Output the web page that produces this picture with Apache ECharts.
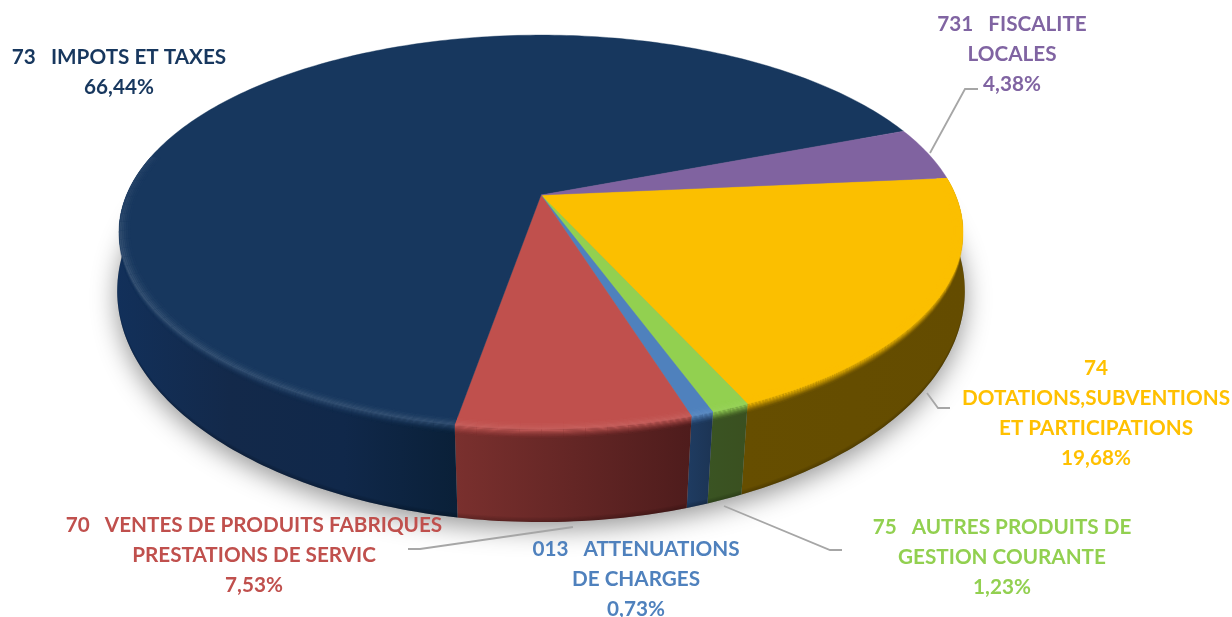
<!DOCTYPE html>
<html><head><meta charset="utf-8">
<style>html,body{margin:0;padding:0;background:#fff}#c{width:1232px;height:617px}</style>
<script src="https://cdn.jsdelivr.net/npm/echarts@6/dist/echarts.min.js"></script>
</head><body><div id="c"></div>
<script>
// DATA (in drawing order, clockwise from the right-hand edge)
const categories = ['74 DOTATIONS,SUBVENTIONS ET PARTICIPATIONS','75 AUTRES PRODUITS DE GESTION COURANTE','013 ATTENUATIONS DE CHARGES','70 VENTES DE PRODUITS FABRIQUES PRESTATIONS DE SERVIC','73 IMPOTS ET TAXES','731 FISCALITE LOCALES'];
const values = [19.68, 1.23, 0.73, 7.53, 66.44, 4.38];
const labelLines = [
  ['74','DOTATIONS,SUBVENTIONS','ET PARTICIPATIONS','19,68%'],
  ['75   AUTRES PRODUITS DE','GESTION COURANTE','1,23%'],
  ['013   ATTENUATIONS','DE CHARGES','0,73%'],
  ['70   VENTES DE PRODUITS FABRIQUES','PRESTATIONS DE SERVIC','7,53%'],
  ['73   IMPOTS ET TAXES','66,44%'],
  ['731   FISCALITE','LOCALES','4,38%']
];
// STYLE / LAYOUT
const topColors = ['#fbbf00','#92d050','#4f81bd','#c0504d','#17375e','#8063a0'];
const textColors = ['#ffc000','#92d050','#4f81bd','#c0504d','#17375e','#8064a2'];
const wallStops = [
  ['#664e00','#644c00'],['#3a5423','#3a5020'],['#1f3c62','#1c3454'],
  ['#7a302e','#4e1c1c'],['#12305a','#13294a','#10284a','#0a2038'],['#3f3050','#3f3050']];
const glow = [0,0.05,0.08,0.09,0.13,0];
const labelPos = [[1096,368],[1002,527],[636,549],[254,525],[119,57],[1012,24]];
const leaders = [
  [[927,393],[938,408],[950,408]],
  [[724,506],[830,550],[842,550]],
  [[573,527],[420,549],[408,549]],
  [[930,153],[965,89],[978,89]]
];
const START = -5.25;
const TOP = {R:414.5,h:190,p:0.188,y0:195,x0:541};
const BOT = {R:419,h:225.8,p:0.15,y0:256.4,x0:541};
const rad = d => d*Math.PI/180;
function proj(P,th,r){
  const u=r*Math.cos(rad(th)), v=r*Math.sin(rad(th)), w=1-P.p*v;
  return [P.x0+P.R*u/w, P.y0+P.h*v/w];
}
function pt(th,q){
  if(q<0) return proj(TOP,th,1+q);
  const a=proj(TOP,th,1), b=proj(BOT,th,1);
  return [a[0]+(b[0]-a[0])*q, a[1]+(b[1]-a[1])*q];
}
function hex(c){return [1,3,5].map(i=>parseInt(c.slice(i,i+2),16));}
function mix(c,t,f){const a=hex(c),b=hex(t);return a.map((x,i)=>Math.round(x+(b[i]-x)*f));}
const total = values.reduce((a,b)=>a+b,0);
function range(a,b,step){const o=[];const n=Math.max(1,Math.ceil((b-a)/step));for(let i=0;i<=n;i++)o.push(a+(b-a)*i/n);return o;}

const BEVEL = [[-0.026,0],[-0.021,0.1],[-0.016,0.25],[-0.012,0.45],[-0.008,0.7],[-0.004,0.9],[0,1],
               [0.012,0.92],[0.024,0.78],[0.036,0.62],[0.048,0.46],[0.06,0.32],[0.072,0.2],[0.084,0.1],[0.1,0]];

function renderItem(params, api){
  const idx = params.dataIndex;
  let before = 0; for(let i=0;i<idx;i++) before += values[i];
  const a0 = START + before/total*360;
  const a1 = a0 + api.value(0)/total*360;
  const children = [];
  if(idx===0){
    const ring = range(0,360,3).map(t=>proj(BOT,t,1));
    children.push({type:'polygon',z2:0,shape:{points:ring},style:{fill:'#999',shadowBlur:26,shadowColor:'rgba(0,0,0,0.42)',shadowOffsetY:7}});
  }
  const wa=Math.max(a0,-6), wb=Math.min(a1,192);
  if(wb>wa){
    const ths=range(wa,wb,1);
    const pts=ths.map(t=>pt(t,0)).concat(ths.slice().reverse().map(t=>pt(t,1)));
    const st=wallStops[idx];
    children.push({type:'polygon',z2:1,shape:{points:pts},style:{
      fill:{type:'linear',x:0,y:0,x2:1,y2:0,colorStops:st.map((c,i)=>({offset:i/(st.length-1),color:c}))},
      stroke:st[0],lineWidth:0}});
    for(let k=0;k<4;k++){
      const q=0.95+k*0.0125;
      const seg=ths.map(t=>pt(t,q)).concat(ths.slice().reverse().map(t=>pt(t,q+0.0125)));
      children.push({type:'polygon',z2:1,shape:{points:seg},style:{fill:'rgba(0,0,0,'+(0.05+k*0.05)+')'}});
    }
  }
  const surf=[proj(TOP,0,0)].concat(range(a0,a1,1).map(t=>proj(TOP,t,1)));
  children.push({type:'polygon',z2:2,shape:{points:surf},style:{fill:topColors[idx],stroke:topColors[idx],lineWidth:0.4}});
  if(wb>wa){
    const ths=range(wa,wb,2.5);
    for(let s=0;s<ths.length-1;s++){
      const t0=ths[s],t1=ths[s+1],tm=(t0+t1)/2;
      const fade=Math.min(1,Math.max(0,(Math.sin(rad(tm))+0.05)/0.35));
      for(let j=0;j<BEVEL.length-1;j++){
        const [q0,g0]=BEVEL[j],[q1,g1]=BEVEL[j+1];
        const qm=(q0+q1)/2, gm=(g0+g1)/2;
        const col=mix(topColors[idx],'#ffffff',glow[idx]*gm*(qm<0?0.5+0.5*fade:0.8*fade));
        const alpha = qm<0 ? 1 : gm*fade;
        const poly=[pt(t0,q0),pt(t1,q0),pt(t1,q1),pt(t0,q1)];
        children.push({type:'polygon',z2:3,shape:{points:poly},style:{fill:'rgba('+col.join(',')+','+alpha+')'}});
      }
    }
  }
  return {type:'group',children};
}

const graphics = [];
leaders.forEach(l=>graphics.push({type:'polyline',z:20,shape:{points:l},style:{stroke:'#a6a6a6',lineWidth:1.8,fill:null}}));
labelLines.forEach((lines,i)=>lines.forEach((txt,j)=>graphics.push({type:'text',z:21,x:labelPos[i][0],y:labelPos[i][1]+j*30,
  style:{text:txt,fill:textColors[i],font:'700 20.7px Lato',align:'center',verticalAlign:'middle'}})));

const chart = echarts.init(document.getElementById('c'),null,{renderer:'canvas'});
chart.setOption({
  animation:false,
  backgroundColor:'#fff',
  series:[{type:'custom',coordinateSystem:'none',silent:true,renderItem,data:values.map((v,i)=>({name:categories[i],value:[v]}))}],
  graphic:{elements:graphics}
});
</script></body></html>
